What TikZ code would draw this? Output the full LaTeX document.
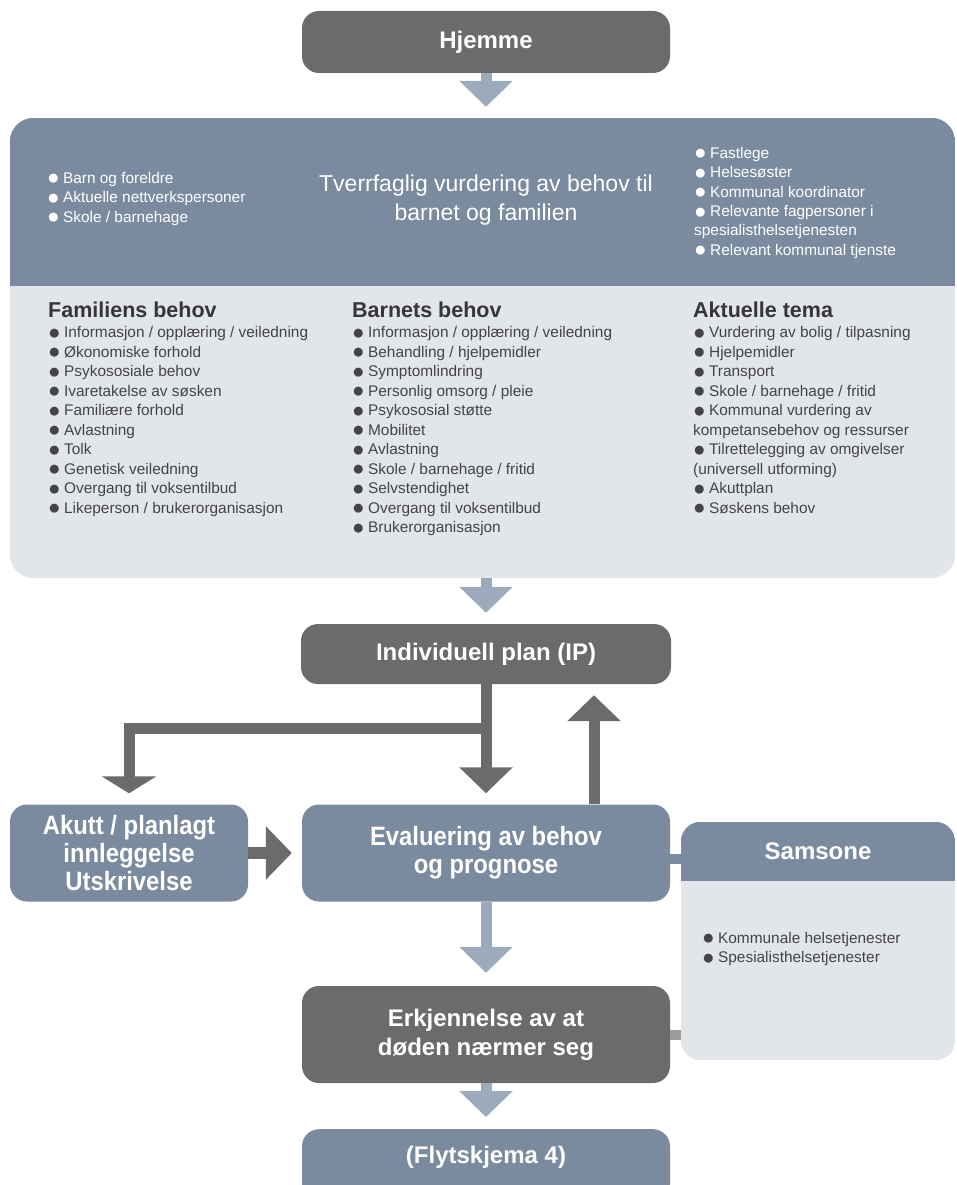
\documentclass[tikz,border=0pt]{standalone}
\usepackage{fontspec}
\setmainfont{Liberation Sans}
\newfontfamily\narrowfont[FakeStretch=0.9]{Liberation Sans}
\usetikzlibrary{arrows.meta, positioning}

\definecolor{darkbox}{RGB}{107,107,105}
\definecolor{steel}{RGB}{123,139,159}
\definecolor{panel}{RGB}{226,229,234}
\definecolor{paleblue}{RGB}{156,171,187}
\definecolor{linkgray}{RGB}{155,155,155}
\definecolor{listtext}{RGB}{68,68,68}

\newcommand{\bul}{\raisebox{-0.1em}{\scalebox{1.35}{●}}\hspace{0.22em}}

\tikzset{
flowbox/.style={rounded corners=17pt, minimum width=368pt, minimum height=62pt, inner sep=0pt, text=white, align=center, font=\fontsize{24}{29}\selectfont\bfseries}, % the rounded step boxes
darkflow/.style={flowbox, fill=darkbox},
steelflow/.style={flowbox, fill=steel},
narrowtext/.style={font=\narrowfont\fontsize{26.5}{28}\selectfont\bfseries},
palearrow/.style={draw=paleblue, line width=11pt, -{Triangle[width=52pt,length=26pt]}, shorten >=11pt},
darkarrow/.style={draw=darkbox, line width=11pt, -{Triangle[width=52pt,length=26pt]}, shorten >=11pt},
whitelist/.style={anchor=north west, inner sep=0pt, align=left, text=white, font=\fontsize{15.4}{19.4}\selectfont},
needlist/.style={anchor=north west, inner sep=0pt, align=left, text=listtext, font=\fontsize{15.4}{19.5}\selectfont},
needhead/.style={anchor=base west, inner sep=0pt, text=listtext!80!black, font=\fontsize{21.5}{25}\selectfont\bfseries},
}

\begin{document}
\begin{tikzpicture}[x=1pt, y=-1pt]
\useasboundingbox (0,0) rectangle (956,1185);
\clip (0,0) rectangle (956,1185);

% top step
\node[darkflow] (hjemme) at (486,42) {Hjemme};

% assessment panel
\node[inner sep=0pt, minimum width=945pt, minimum height=460pt] (vurd) at (482.5,348) {};
\coordinate (vsplit) at (10,286);
\begin{scope}
  \clip[rounded corners=24pt] (vurd.north west) rectangle (vurd.south east);
  \fill[panel] (vurd.north west) rectangle (vurd.south east);
  \fill[steel] (vurd.north west) rectangle (vurd.east |- vsplit);
\end{scope}
\node[whitelist] (deltakere) at (47,172) {\bul Barn og foreldre\\\bul Aktuelle nettverkspersoner\\\bul Skole / barnehage};
\node[anchor=north, inner sep=0pt, align=center, text=white, font=\fontsize{23}{29}\selectfont] (tittel) at (486,175) {Tverrfaglig vurdering av behov til\\barnet og familien};
\node[whitelist] (fagfolk) at (694,147) {\bul Fastlege\\\bul Helsesøster\\\bul Kommunal koordinator\\\bul Relevante fagpersoner i\\spesialisthelsetjenesten\\\bul Relevant kommunal tjenste};

\node[needhead] (famhead) at (48,317) {Familiens behov};
\node[needlist, below right=9pt and 0pt of famhead.south west] (famlist) {\bul Informasjon / opplæring / veiledning\\\bul Økonomiske forhold\\\bul Psykososiale behov\\\bul Ivaretakelse av søsken\\\bul Familiære forhold\\\bul Avlastning\\\bul Tolk\\\bul Genetisk veiledning\\\bul Overgang til voksentilbud\\\bul Likeperson / brukerorganisasjon};
\node[needhead] (barnhead) at (352,317) {Barnets behov};
\node[needlist, below right=9pt and 0pt of barnhead.south west] (barnlist) {\bul Informasjon / opplæring / veiledning\\\bul Behandling / hjelpemidler\\\bul Symptomlindring\\\bul Personlig omsorg / pleie\\\bul Psykososial støtte\\\bul Mobilitet\\\bul Avlastning\\\bul Skole / barnehage / fritid\\\bul Selvstendighet\\\bul Overgang til voksentilbud\\\bul Brukerorganisasjon};
\node[needhead] (temahead) at (693,317) {Aktuelle tema};
\node[needlist, below right=9pt and 0pt of temahead.south west] (temalist) {\bul Vurdering av bolig / tilpasning\\\bul Hjelpemidler\\\bul Transport\\\bul Skole / barnehage / fritid\\\bul Kommunal vurdering av\\kompetansebehov og ressurser\\\bul Tilrettelegging av omgivelser\\(universell utforming)\\\bul Akuttplan\\\bul Søskens behov};

% plan and evaluation
\node[darkflow, minimum width=370pt, minimum height=60pt] (ip) at (486,654) {Individuell plan (IP)};
\node[steelflow, narrowtext, minimum width=238pt, minimum height=97pt] (akutt) at (129,853) {Akutt / planlagt\\innleggelse\\Utskrivelse};
\node[steelflow, narrowtext, minimum height=97pt] (eval) at (486,853) {Evaluering av behov\\og prognose};
\node[darkflow, minimum height=97pt] (erk) at (486,1034.5) {Erkjennelse av at\\døden nærmer seg};
\node[steelflow, minimum height=72pt, anchor=north] (flyt) at (486,1129) {};
\node[text=white, inner sep=0pt, font=\fontsize{24}{29}\selectfont\bfseries] (flyttext) at (486,1157) {(Flytskjema 4)};

% cooperation panel
\node[inner sep=0pt, minimum width=274pt, minimum height=238pt] (samsone) at (818,941) {};
\coordinate (ssplit) at (681,881);
\begin{scope}
  \clip[rounded corners=20pt] (samsone.north west) rectangle (samsone.south east);
  \fill[panel] (samsone.north west) rectangle (samsone.south east);
  \fill[steel] (samsone.north west) rectangle (samsone.east |- ssplit);
\end{scope}
\node[text=white, inner sep=0pt, font=\fontsize{24}{29}\selectfont\bfseries] (samsonetitle) at (818,851) {Samsone};
\node[needlist] (samsoneliste) at (702,932) {\bul Kommunale helsetjenester\\\bul Spesialisthelsetjenester};

% arrows
\draw[palearrow] (hjemme.south) -- (hjemme.south |- vurd.north);
\draw[palearrow] (ip.north |- vurd.south) -- (ip.north);
\draw[darkarrow] (ip.south) -- (eval.north);
\draw[darkarrow, -{Triangle[width=54pt,length=17pt]}] ([yshift=-44pt]ip.south) -| (akutt.north);
\draw[darkarrow] ([xshift=108pt]eval.north) -- ([xshift=108pt]eval.north |- ip.south);
\draw[darkarrow, line width=12pt, shorten >=10pt] (akutt.east) -- (eval.west);
\draw[palearrow, shorten >=13pt] (eval.south) -- (erk.north);
\draw[palearrow, shorten >=12pt] (erk.south) -- (flyt.north);
\draw[steel, line width=10pt] ([yshift=-6pt]eval.east) -- ([yshift=-6pt]eval.east -| samsone.west);
\draw[linkgray, line width=10pt] (erk.east) -- (erk.east -| samsone.west);
\end{tikzpicture}
\end{document}
